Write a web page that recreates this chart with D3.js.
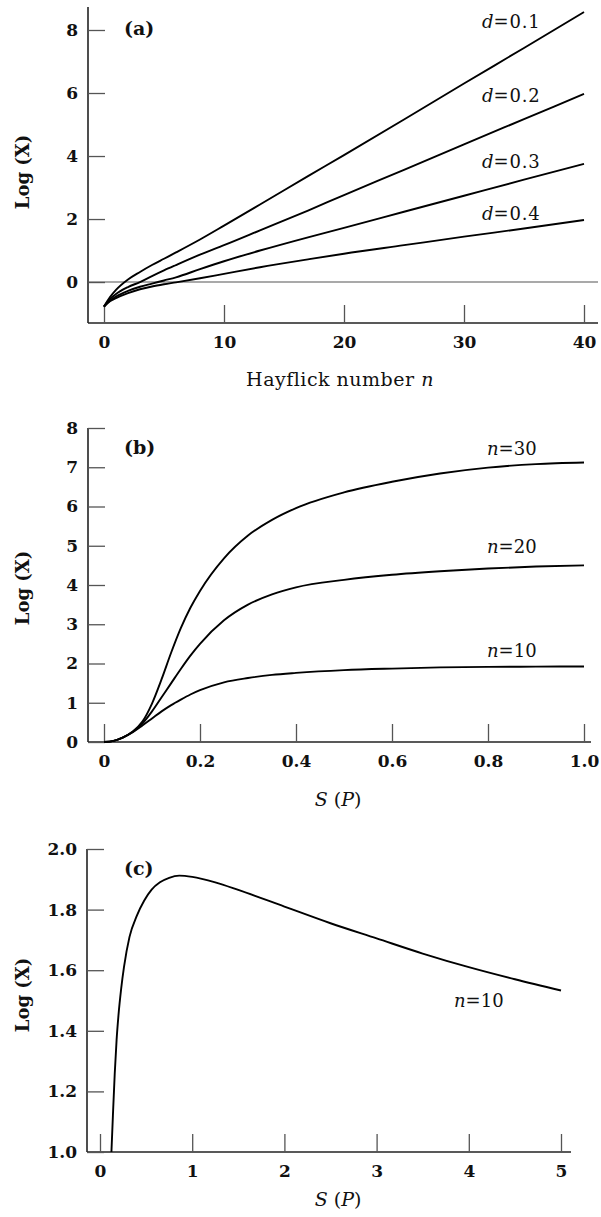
<!DOCTYPE html>
<html>
<head>
<meta charset="utf-8"/>
<script src="https://d3js.org/d3.v7.min.js"></script>
<style>
  body { margin: 0; background: #fff; }
  text { font-family: "DejaVu Serif", serif; fill: #111; }
</style>
</head>
<body>
<svg id="chart" width="601" height="1217"></svg>
<script>
// ---- panel (a): Log(X) vs Hayflick number n ----
const nA = [0, 0.5, 1, 2, 3, 4, 5, 6, 8, 10, 13, 17, 20, 25, 30, 35, 40];
const logA_d01 = [-0.78, -0.48, -0.25, 0.08, 0.32, 0.54, 0.74, 0.94, 1.35, 1.79, 2.46, 3.36, 4.03, 5.16, 6.3, 7.43, 8.57];
const logA_d02 = [-0.78, -0.54, -0.38, -0.16, 0.0, 0.19, 0.37, 0.54, 0.87, 1.17, 1.64, 2.27, 2.76, 3.56, 4.37, 5.17, 5.97];
const logA_d03 = [-0.78, -0.59, -0.46, -0.28, -0.15, -0.05, 0.05, 0.15, 0.41, 0.66, 1.0, 1.42, 1.72, 2.23, 2.74, 3.25, 3.75];
const logA_d04 = [-0.78, -0.61, -0.51, -0.35, -0.23, -0.14, -0.07, -0.01, 0.12, 0.26, 0.47, 0.72, 0.9, 1.17, 1.44, 1.7, 1.97];
const labelsA = ["0.1", "0.2", "0.3", "0.4"];
const xTicksA = [0, 10, 20, 30, 40];
const yTicksA = [0, 2, 4, 6, 8];

// ---- panel (b): Log(X) vs S(P) ----
const sB = [0, 0.02, 0.04, 0.06, 0.08, 0.1, 0.12, 0.14, 0.16, 0.18, 0.2, 0.25, 0.3, 0.35, 0.4, 0.5, 0.6, 0.7, 0.8, 0.9, 1.0];
const logB_n10 = [0, 0.03, 0.12, 0.25, 0.42, 0.6, 0.78, 0.94, 1.08, 1.21, 1.32, 1.52, 1.63, 1.71, 1.76, 1.83, 1.87, 1.9, 1.915, 1.92, 1.925];
const logB_n20 = [0, 0.03, 0.12, 0.26, 0.47, 0.78, 1.14, 1.5, 1.86, 2.2, 2.5, 3.1, 3.5, 3.76, 3.94, 4.13, 4.26, 4.35, 4.42, 4.47, 4.5];
const logB_n30 = [0, 0.03, 0.12, 0.27, 0.52, 0.98, 1.6, 2.28, 2.9, 3.42, 3.85, 4.68, 5.26, 5.66, 5.96, 6.36, 6.63, 6.84, 6.99, 7.08, 7.12];
const labelsB = ["10", "20", "30"];
const xTicksB = [0, 0.2, 0.4, 0.6, 0.8, 1.0];
const yTicksB = [0, 1, 2, 3, 4, 5, 6, 7, 8];

// ---- panel (c): Log(X) vs S(P), n = 10 ----
const sC = [0.124, 0.14, 0.16, 0.18, 0.2, 0.23, 0.26, 0.32, 0.4, 0.48, 0.56, 0.65, 0.75, 0.86, 1.0, 1.25, 1.5, 2.0, 2.5, 3.0, 3.5, 4.0, 4.5, 5.0];
const logC_n10 = [1.0, 1.12, 1.26, 1.37, 1.45, 1.54, 1.61, 1.71, 1.78, 1.83, 1.866, 1.89, 1.905, 1.912, 1.908, 1.89, 1.865, 1.81, 1.755, 1.705, 1.655, 1.61, 1.57, 1.533];
const xTicksC = [0, 1, 2, 3, 4, 5];
const yTicksC = [1.0, 1.2, 1.4, 1.6, 1.8, 2.0];

let svg = d3.select("svg#chart");

function drawPanel(p) {
    let g = svg.append("g");
    let x = d3.scaleLinear().domain(p.xDom).range(p.xRange);
    let y = d3.scaleLinear().domain(p.yDom).range(p.yRange);

    // axis lines
    g.append("line")
        .attr("x1", p.axX).attr("x2", p.axX)
        .attr("y1", p.axTop).attr("y2", p.yRange[0])
        .style("stroke", "#222").style("stroke-width", 1.6);
    g.append("line")
        .attr("x1", p.axX).attr("x2", p.axRight)
        .attr("y1", p.yRange[0]).attr("y2", p.yRange[0])
        .style("stroke", "#222").style("stroke-width", 1.6);

    let ya = g.append("g").attr("transform", "translate(" + p.axX + ",0)")
        .call(d3.axisLeft(y).tickValues(p.yTicks).tickSize(-17).tickSizeOuter(0)
            .tickPadding(10).tickFormat(p.yFmt));
    let xa = g.append("g").attr("transform", "translate(0," + p.yRange[0] + ")")
        .call(d3.axisBottom(x).tickValues(p.xTicks).tickSize(-18).tickSizeOuter(0)
            .tickPadding(13).tickFormat(p.xFmt));
    [ya, xa].forEach(function(a) {
        a.select(".domain").remove();
        a.selectAll(".tick line").style("stroke", "#555").style("stroke-width", 1.3);
        a.selectAll(".tick text")
            .style("font-family", "DejaVu Serif").style("font-size", "17px")
            .style("font-weight", "bold").style("fill", "#111");
    });

    if (p.zeroLine) {
        g.append("line")
            .attr("x1", p.axX).attr("x2", p.axRight)
            .attr("y1", y(0)).attr("y2", y(0))
            .style("stroke", "#555").style("stroke-width", 1.1);
    }

    let line = d3.line()
        .x(function(d) { return x(d[0]); })
        .y(function(d) { return y(d[1]); })
        .curve(d3.curveMonotoneX);
    p.series.forEach(function(s) {
        let pts = p.xs.map(function(v, i) { return [v, s[i]]; })
            .filter(function(d) { return d[1] >= p.yDom[0]; });
        g.append("path")
            .attr("d", line(pts))
            .style("fill", "none")
            .style("stroke", "#000")
            .style("stroke-width", 1.9);
    });

    // panel tag
    g.append("text").text(p.tag)
        .attr("x", 124).attr("y", p.tagY)
        .style("font-size", "19px").style("font-weight", "bold");

    // y title
    g.append("text").text("Log (X)")
        .attr("transform", "translate(29," + p.yTitleY + ") rotate(-90)")
        .attr("text-anchor", "middle")
        .style("font-size", "18px").style("font-weight", "bold");

    return { g: g, x: x, y: y };
}

function sLabel(g, yy) {
    let t = g.append("text").attr("x", 338).attr("y", yy)
        .attr("text-anchor", "middle").style("font-size", "19px");
    t.append("tspan").text("S").style("font-style", "italic");
    t.append("tspan").text(" (");
    t.append("tspan").text("P").style("font-style", "italic");
    t.append("tspan").text(")");
}

// panel (a)
let pa = drawPanel({
    xDom: [0, 40], xRange: [104, 584], yDom: [-1.3, 8.73], yRange: [323, 7],
    axX: 88, axTop: 7, axRight: 598, zeroLine: true,
    xTicks: xTicksA, yTicks: yTicksA, xFmt: d3.format("d"), yFmt: d3.format("d"),
    xs: nA, series: [logA_d01, logA_d02, logA_d03, logA_d04],
    tag: "(a)", tagY: 35, yTitleY: 172
});
let tA = pa.g.append("text")
    .attr("x", 340).attr("y", 386)
    .attr("text-anchor", "middle")
    .style("font-size", "19px").style("letter-spacing", "0.5px");
tA.append("tspan").text("Hayflick number ");
tA.append("tspan").text("n").style("font-style", "italic");
[28, 102, 168, 220].forEach(function(yy, i) {
    let t = pa.g.append("text").attr("x", 482).attr("y", yy)
        .style("font-size", "18px");
    t.append("tspan").text("d").style("font-style", "italic");
    t.append("tspan").text("=" + labelsA[i]).style("letter-spacing", "0.8px");
});

// panel (b)
let pb = drawPanel({
    xDom: [0, 1], xRange: [104, 584], yDom: [0, 8], yRange: [742, 428],
    axX: 88, axTop: 428, axRight: 591, zeroLine: false,
    xTicks: xTicksB, yTicks: yTicksB,
    xFmt: function(d) { return d === 0 ? "0" : d3.format(".1f")(d); }, yFmt: d3.format("d"),
    xs: sB, series: [logB_n10, logB_n20, logB_n30],
    tag: "(b)", tagY: 454, yTitleY: 588
});
[657, 553, 455].forEach(function(yy, i) {
    let t = pb.g.append("text").attr("x", 487).attr("y", yy)
        .style("font-size", "18px");
    t.append("tspan").text("n").style("font-style", "italic");
    t.append("tspan").text("=" + labelsB[i]);
});
sLabel(pb.g, 806);

// panel (c)
let pc = drawPanel({
    xDom: [0, 5], xRange: [100, 561], yDom: [1, 2], yRange: [1152, 849],
    axX: 87, axTop: 849, axRight: 571, zeroLine: false,
    xTicks: xTicksC, yTicks: yTicksC, xFmt: d3.format("d"), yFmt: d3.format(".1f"),
    xs: sC, series: [logC_n10],
    tag: "(c)", tagY: 875, yTitleY: 995
});
let tC1 = pc.g.append("text").attr("x", 454).attr("y", 1007).style("font-size", "18px");
tC1.append("tspan").text("n").style("font-style", "italic");
tC1.append("tspan").text("=10");
sLabel(pc.g, 1206);
</script>
</body>
</html>
